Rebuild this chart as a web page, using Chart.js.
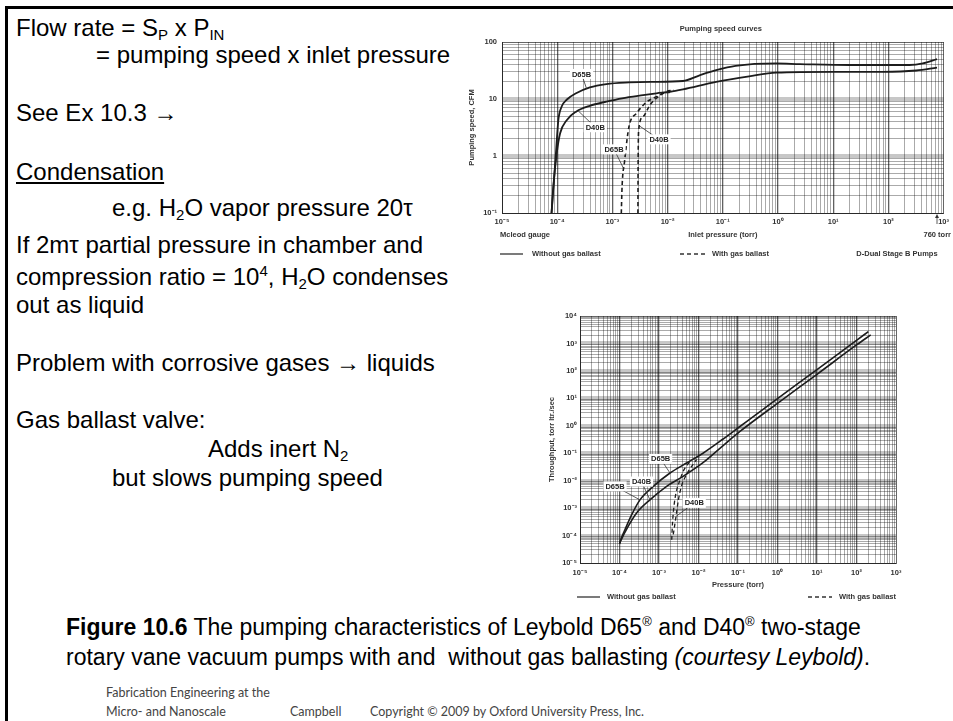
<!DOCTYPE html>
<html>
<head>
<meta charset="utf-8">
<script src="https://cdn.jsdelivr.net/npm/chart.js@4.4.1/dist/chart.umd.min.js"></script>
<style>
  body { margin: 0; width: 953px; height: 721px; overflow: hidden; background: #fff; position: relative;
         font-family: "Liberation Sans", Arial, sans-serif; }
  .rule-top { position: absolute; left: 5px; top: 6px; width: 948px; height: 3px; background: #000; }
  .rule-left { position: absolute; left: 5px; top: 6px; width: 3px; height: 715px; background: #000; }
  .t { position: absolute; left: 16px; font-size: 24px; line-height: 24px; white-space: nowrap; color: #000; }
  .t sub, .t sup { font-size: 15px; line-height: 0; }
  .t sub { vertical-align: -4px; }
  .t sup { vertical-align: 9px; }
  .cap { position: absolute; left: 66px; font-size: 23px; line-height: 23px; white-space: nowrap; }
  .cap sup { font-size: 13px; line-height: 0; vertical-align: 9px; }
  .foot { position: absolute; font-family: Lato, "Open Sans", sans-serif; font-size: 12.5px; line-height: 13px;
          color: #444; white-space: nowrap; }
  canvas { position: absolute; }
</style>
</head>
<body>
<div class="rule-top"></div>
<div class="rule-left"></div>

<div class="t" style="top:16px">Flow rate = S<sub>P</sub> x P<sub>IN</sub></div>
<div class="t" style="top:43px;left:96px">= pumping speed x inlet pressure</div>
<div class="t" style="top:101px">See Ex 10.3 →</div>
<div class="t" style="top:160px"><u>Condensation</u></div>
<div class="t" style="top:196px;left:112px">e.g. H<sub>2</sub>O vapor pressure 20τ</div>
<div class="t" style="top:233px">If 2mτ partial pressure in chamber and</div>
<div class="t" style="top:265px">compression ratio = 10<sup>4</sup>, H<sub>2</sub>O condenses</div>
<div class="t" style="top:293px">out as liquid</div>
<div class="t" style="top:351px">Problem with corrosive gases → liquids</div>
<div class="t" style="top:408px">Gas ballast valve:</div>
<div class="t" style="top:437px;left:208px">Adds inert N<sub>2</sub></div>
<div class="t" style="top:466px;left:112px">but slows pumping speed</div>

<canvas id="speedChart" width="498" height="260" style="left:455px;top:15px"></canvas>
<canvas id="throughChart" width="380" height="305" style="left:530px;top:300px"></canvas>

<div class="cap" style="top:616px"><b>Figure 10.6</b> The pumping characteristics of Leybold D65<sup>®</sup> and D40<sup>®</sup> two-stage</div>
<div class="cap" style="top:646px">rotary vane vacuum pumps with and&nbsp; without gas ballasting <i>(courtesy Leybold)</i>.</div>

<div class="foot" style="left:106px;top:686px">Fabrication Engineering at the</div>
<div class="foot" style="left:106px;top:705px">Micro- and Nanoscale</div>
<div class="foot" style="left:290px;top:705px">Campbell</div>
<div class="foot" style="left:370px;top:705px">Copyright © 2009 by Oxford University Press, Inc.</div>

<script>
// pumping speed (CFM) vs inlet pressure (torr)
const speedD65P = [7.9e-5, 8.6e-5, 9.4e-5, 1.05e-4, 1.2e-4, 1.5e-4, 2.2e-4, 3.9e-4, 7.8e-4, 2e-3, 5e-3, 0.019, 0.038, 0.076, 0.17, 0.93, 2.5, 20, 240, 420, 760];
const speedD65 = [0.1, 0.3, 1.0, 4.3, 7.3, 9.8, 12.6, 16, 18.3, 19.5, 20, 20.7, 26, 32, 38, 42, 41, 39.5, 39.5, 42, 50];
const speedD40P = [7.9e-5, 8.5e-5, 9.8e-5, 1.13e-4, 1.5e-4, 2.2e-4, 3.9e-4, 7.8e-4, 1.5e-3, 3.6e-3, 6.3e-3, 0.011, 0.019, 0.076, 0.3, 0.93, 10, 80, 320, 760];
const speedD40 = [0.1, 0.29, 1.1, 2.5, 4.3, 6.0, 7.6, 9.0, 10.3, 11.7, 12.6, 13.4, 14.8, 20, 25, 29, 30, 30, 31.6, 35.5];
const speedD65gbP = [1.45e-3, 1.5e-3, 1.66e-3, 2.0e-3, 2.73e-3, 4.2e-3, 6.3e-3, 8.3e-3, 0.011];
const speedD65gb = [0.1, 0.3, 0.8, 3.3, 5.6, 8.9, 11, 12.6, 13.2];
const speedD40gbP = [2.9e-3, 2.92e-3, 3.0e-3, 3.6e-3, 4.8e-3, 6.8e-3, 9.5e-3, 0.013];
const speedD40gb = [0.1, 0.6, 2.9, 4.9, 7.9, 11, 13.5, 14.3];

// throughput (torr l/s) vs pressure (torr)
const thruD65P = [1.0e-4, 1.05e-4, 1.38e-4, 2.04e-4, 3.3e-4, 7.2e-4, 1.9e-3, 5e-3, 0.013, 0.042, 0.112, 1, 10, 100, 200];
const thruD65 = [5e-5, 6.5e-5, 1.66e-4, 5.8e-4, 2.0e-3, 6.2e-3, 0.019, 0.044, 0.10, 0.33, 0.94, 9.7, 112, 1300, 2700];
const thruD40P = [1.0e-4, 1.08e-4, 1.67e-4, 2.74e-4, 5.9e-4, 1.56e-3, 4.1e-3, 0.013, 0.042, 0.112, 1, 10, 100, 229];
const thruD40 = [5e-5, 6.5e-5, 2.2e-4, 6.8e-4, 2.0e-3, 6.2e-3, 0.0144, 0.045, 0.19, 0.62, 6.6, 75, 880, 2040];
const thruD65gbP = [2.1e-3, 2.2e-3, 2.4e-3, 2.7e-3, 3.3e-3, 4.1e-3, 5.5e-3, 6.7e-3];
const thruD65gb = [7e-5, 2.9e-4, 1.2e-3, 3.6e-3, 9.4e-3, 0.022, 0.042, 0.057];
const thruD40gbP = [2.3e-3, 2.7e-3, 3.1e-3, 3.7e-3, 5e-3, 6.7e-3, 8.9e-3];
const thruD40gb = [1.1e-4, 5e-4, 2e-3, 6.2e-3, 0.017, 0.033, 0.058];

// decade tick labels
const pressTicks = ['10⁻⁵', '10⁻⁴', '10⁻³', '10⁻²', '10⁻¹', '10⁰', '10¹', '10²', '10³'];
const speedTicks = ['10⁻¹', '1', '10', '100'];
const thruTicks = ['10⁻⁵', '10⁻⁴', '10⁻³', '10⁻²', '10⁻¹', '10⁰', '10¹', '10²', '10³', '10⁴'];

const FONT = '"Liberation Sans", Arial, sans-serif';
const smallFont = { family: FONT, size: 7.5, weight: 'bold' };
const INK = '#333';

function logAxis(lo, labels, o) {
  const hi = lo + labels.length - 1;
  const min = Math.pow(10, lo), max = Math.pow(10, hi);
  const isEdge = t => t.value <= min * 1.001 || t.value >= max * 0.999;
  return {
    type: 'logarithmic',
    position: o.position,
    min: min,
    max: max,
    afterBuildTicks(s) {
      const t = [];
      for (let e = lo; e <= hi; e++) {
        for (let m = 1; m <= 9; m++) {
          if (e === hi && m > 1) break;
          t.push({ value: m * Math.pow(10, e), major: m === 1, txt: m === 1 ? labels[e - lo] : '' });
        }
      }
      s.ticks = t;
    },
    afterFit(s) {
      if (o.position === 'left') s.width = o.size; else s.height = o.size;
    },
    ticks: {
      autoSkip: false, maxRotation: 0, padding: o.pad, font: smallFont, color: INK,
      callback: (v, i, ticks) => ticks[i].txt
    },
    grid: {
      drawTicks: false,
      color: c => {
        const t = c.tick;
        if (!t || isEdge(t)) return 'rgba(0,0,0,0.6)';
        if (t.major) return o.band ? 'rgba(0,0,0,0.22)' : 'rgba(0,0,0,0.62)';
        return 'rgba(0,0,0,0.42)';
      },
      lineWidth: c => {
        const t = c.tick;
        if (!t || isEdge(t)) return 1;
        if (t.major) return o.band ? 4 : 1.3;
        return 0.8;
      }
    },
    border: { display: true, color: 'rgba(0,0,0,0.6)', width: 1 },
    title: { display: true, text: o.title, font: smallFont, color: INK, padding: o.titlePad }
  };
}

function series(xs, ys, label, dashed, w) {
  return {
    label: label,
    data: xs.map((x, i) => ({ x: x, y: ys[i] })),
    showLine: true,
    borderColor: '#1c1c1c',
    backgroundColor: '#1c1c1c',
    borderWidth: w,
    borderDash: dashed ? [4, 3] : [],
    pointRadius: 0,
    cubicInterpolationMode: 'monotone',
    fill: false
  };
}

function drawCallouts(chart, list) {
  const { ctx, scales: { x, y } } = chart;
  ctx.save();
  ctx.font = 'bold 7.5px ' + FONT;
  ctx.textAlign = 'center';
  ctx.textBaseline = 'middle';
  list.forEach(c => {
    const lx = x.getPixelForValue(c.at[0]), ly = y.getPixelForValue(c.at[1]);
    const px = x.getPixelForValue(c.to[0]), py = y.getPixelForValue(c.to[1]);
    ctx.strokeStyle = '#333';
    ctx.lineWidth = 0.8;
    ctx.beginPath(); ctx.moveTo(lx, ly); ctx.lineTo(px, py); ctx.stroke();
    const w = ctx.measureText(c.text).width + 4;
    ctx.fillStyle = '#fff';
    ctx.fillRect(lx - w / 2, ly - 5, w, 10);
    ctx.fillStyle = '#222';
    ctx.fillText(c.text, lx, ly + 0.5);
  });
  ctx.restore();
}

function legendLine(ctx, x0, x1, y, dashed) {
  ctx.save();
  ctx.strokeStyle = '#333';
  ctx.lineWidth = 1.3;
  ctx.setLineDash(dashed ? [4, 3] : []);
  ctx.beginPath(); ctx.moveTo(x0, y); ctx.lineTo(x1, y); ctx.stroke();
  ctx.restore();
}

function note(ctx, text, x, y, align) {
  ctx.save();
  ctx.font = 'bold 7.5px ' + FONT;
  ctx.fillStyle = INK;
  ctx.textAlign = align || 'left';
  ctx.textBaseline = 'middle';
  ctx.fillText(text, x, y);
  ctx.restore();
}

const speedExtras = {
  id: 'speedExtras',
  afterDraw(chart) {
    const { ctx, chartArea: a, scales: { x } } = chart;
    drawCallouts(chart, [
      { text: 'D65B', at: [2.76e-4, 27.5], to: [3.4e-4, 15.2] },
      { text: 'D40B', at: [4.9e-4, 3.2], to: [2.4e-4, 6.2] },
      { text: 'D65B', at: [1.07e-3, 1.31], to: [1.6e-3, 0.6] },
      { text: 'D40B', at: [7e-3, 1.96], to: [3.05e-3, 3.4] }
    ]);
    note(ctx, 'Pumping speed curves', (a.left + a.right) / 2 - 2, a.top - 13, 'center');
    note(ctx, 'Mcleod gauge', a.left - 2, a.bottom + 22);
    note(ctx, '760 torr', chart.width - 2, a.bottom + 22, 'right');
    // arrow at 760 torr
    const ax = x.getPixelForValue(760);
    ctx.save();
    ctx.strokeStyle = INK; ctx.fillStyle = INK; ctx.lineWidth = 0.8;
    ctx.beginPath(); ctx.moveTo(ax, a.bottom + 3); ctx.lineTo(ax, a.bottom + 11); ctx.stroke();
    ctx.beginPath(); ctx.moveTo(ax, a.bottom + 1); ctx.lineTo(ax - 2, a.bottom + 5); ctx.lineTo(ax + 2, a.bottom + 5); ctx.fill();
    ctx.restore();
    const ly = a.bottom + 41;
    legendLine(ctx, a.left - 2, a.left + 21, ly, false);
    note(ctx, 'Without gas ballast', a.left + 30, ly);
    legendLine(ctx, a.left + 178, a.left + 203, ly, true);
    note(ctx, 'With gas ballast', a.left + 210, ly);
    note(ctx, 'D-Dual Stage B Pumps', a.right - 6, ly, 'right');
  }
};

const thruExtras = {
  id: 'thruExtras',
  afterDraw(chart) {
    const { ctx, chartArea: a } = chart;
    drawCallouts(chart, [
      { text: 'D65B', at: [1.1e-3, 0.062], to: [1.9e-3, 0.019] },
      { text: 'D40B', at: [3.6e-4, 9.3e-3], to: [5.9e-4, 2e-3] },
      { text: 'D65B', at: [7.7e-5, 6.2e-3], to: [3.3e-4, 2e-3] },
      { text: 'D40B', at: [7.8e-3, 1.55e-3], to: [2.7e-3, 5e-4] }
    ]);
    const ly = a.bottom + 34;
    legendLine(ctx, a.left - 3, a.left + 20, ly, false);
    note(ctx, 'Without gas ballast', a.left + 27, ly);
    legendLine(ctx, a.left + 228, a.left + 252, ly, true);
    note(ctx, 'With gas ballast', a.left + 259, ly);
  }
};

const baseOpts = {
  responsive: false,
  animation: false,
  devicePixelRatio: 1,
  plugins: { legend: { display: false }, tooltip: { enabled: false } }
};

new Chart(document.getElementById('speedChart'), {
  type: 'scatter',
  data: {
    datasets: [
      series(speedD65P, speedD65, 'D65B without gas ballast', false, 1.8),
      series(speedD40P, speedD40, 'D40B without gas ballast', false, 1.8),
      series(speedD65gbP, speedD65gb, 'D65B with gas ballast', true, 1.6),
      series(speedD40gbP, speedD40gb, 'D40B with gas ballast', true, 1.6)
    ]
  },
  options: Object.assign({}, baseOpts, {
    layout: { padding: { left: 8, top: 27, right: 8, bottom: 0 } },
    scales: {
      x: logAxis(-5, pressTicks, { position: 'bottom', size: 62, pad: 4, band: false,
        title: 'Inlet pressure (torr)', titlePad: { top: 0, bottom: 35.5 } }),
      y: logAxis(-1, speedTicks, { position: 'left', size: 39, pad: 5, band: true,
        title: 'Pumping speed, CFM', titlePad: { top: 4.5, bottom: 0 } })
    }
  }),
  plugins: [speedExtras]
});

new Chart(document.getElementById('throughChart'), {
  type: 'scatter',
  data: {
    datasets: [
      series(thruD65P, thruD65, 'D65B without gas ballast', false, 1.6),
      series(thruD40P, thruD40, 'D40B without gas ballast', false, 1.6),
      series(thruD65gbP, thruD65gb, 'D65B with gas ballast', true, 1.3),
      series(thruD40gbP, thruD40gb, 'D40B with gas ballast', true, 1.3)
    ]
  },
  options: Object.assign({}, baseOpts, {
    layout: { padding: { left: 8, top: 16, right: 14, bottom: 0 } },
    scales: {
      x: logAxis(-5, pressTicks, { position: 'bottom', size: 42, pad: 5.5, band: false,
        title: 'Pressure (torr)', titlePad: { top: 0, bottom: 15.5 } }),
      y: logAxis(-5, thruTicks, { position: 'left', size: 42, pad: 3, band: true,
        title: 'Throughput, torr ltr./sec', titlePad: { top: 9, bottom: 0 } })
    }
  }),
  plugins: [thruExtras]
});
</script>
</body>
</html>
